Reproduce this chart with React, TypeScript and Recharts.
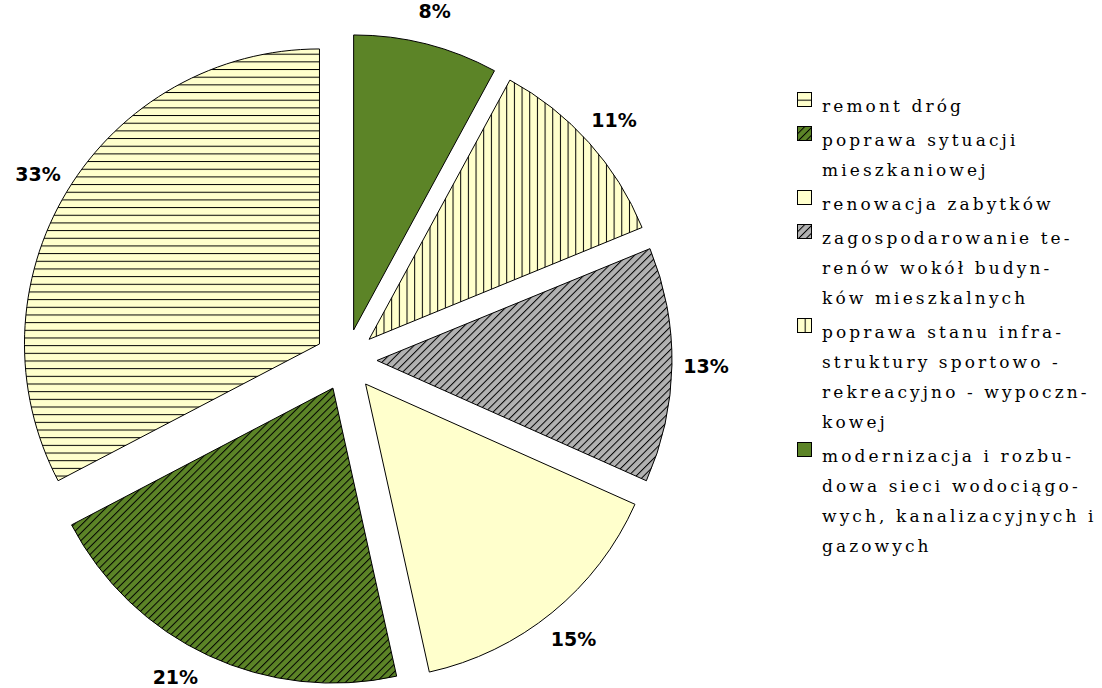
import React from 'react';
import { PieChart, Pie, Sector, Legend } from 'recharts';

// ---- data ----
const categories = [
  'remont dróg',
  'poprawa sytuacji mieszkaniowej',
  'renowacja zabytków',
  'zagospodarowanie terenów wokół budynków mieszkalnych',
  'poprawa stanu infrastruktury sportowo - rekreacyjno - wypocznkowej',
  'modernizacja i rozbudowa sieci wodociągowych, kanalizacyjnych i gazowych',
];
const shares = [33, 21, 15, 13, 11, 8];
const legendLines = [
  ['remont dróg'],
  ['poprawa sytuacji', 'mieszkaniowej'],
  ['renowacja zabytków'],
  ['zagospodarowanie te-', 'renów wokół budyn-', 'ków mieszkalnych'],
  ['poprawa stanu infra-', 'struktury sportowo -', 'rekreacyjno - wypoczn-', 'kowej'],
  ['modernizacja i rozbu-', 'dowa sieci wodociągo-', 'wych, kanalizacyjnych i', 'gazowych'],
];

// ---- styles ----
const GREEN = '#5C8427';
const YELLOW = '#FFFFCC';
const GRAY = '#B2B2B2';
const fills = ['url(#hLines)', 'url(#greenHatch)', YELLOW, 'url(#grayHatch)', 'url(#vLines)', GREEN];

const data = categories.map((name, i) => ({ name, value: shares[i], fill: fills[i] }));

const RAD = Math.PI / 180;
const EXPLODE = 31;
const LABEL_OFFSET = 65;
const LABEL_MAX_Y = 677;

const renderSlice = (props: any) => {
  const { cx, cy, midAngle } = props;
  const dx = EXPLODE * Math.cos(-midAngle * RAD);
  const dy = EXPLODE * Math.sin(-midAngle * RAD);
  return (
    <Sector
      cx={cx + dx}
      cy={cy + dy}
      innerRadius={props.innerRadius}
      outerRadius={props.outerRadius}
      startAngle={props.startAngle}
      endAngle={props.endAngle}
      fill={props.fill}
      stroke="#000"
      strokeWidth={1}
    />
  );
};

const renderLabel = (props: any) => {
  const { cx, cy, midAngle, outerRadius, value } = props;
  const r = outerRadius + LABEL_OFFSET;
  const cos = Math.cos(-midAngle * RAD);
  let x = cx + r * cos;
  let y = cy + r * Math.sin(-midAngle * RAD);
  if (y > LABEL_MAX_Y) {
    y = LABEL_MAX_Y;
    const h = Math.sqrt(Math.max(0, r * r - (y - cy) * (y - cy)));
    x = cx + (cos < 0 ? -h : h);
  }
  return (
    <text
      x={x}
      y={y}
      textAnchor="middle"
      dominantBaseline="central"
      fontFamily="DejaVu Sans"
      fontWeight="bold"
      fontSize={19}
      fill="#000"
    >
      {value}%
    </text>
  );
};

const renderLegend = (props: any) => {
  const payload = [...(props.payload || [])].sort(
    (a: any, b: any) => categories.indexOf(a.value) - categories.indexOf(b.value)
  );
  return (
    <div style={{ fontFamily: 'DejaVu Serif', fontSize: 17, letterSpacing: 3.1, color: '#000' }}>
      {payload.map((entry: any, i: number) => {
        const idx = categories.indexOf(entry.value);
        const lines = idx >= 0 ? legendLines[idx] : [String(entry.value)];
        const fill = idx >= 0 ? fills[idx] : entry.color;
        return (
          <div key={i} style={{ display: 'flex', alignItems: 'flex-start', marginBottom: 4 }}>
            <svg width={16} height={16} style={{ flex: 'none', marginTop: 1 }}>
              <rect x={0.5} y={0.5} width={14} height={14} fill={fill} stroke="#000" strokeWidth={1} />
            </svg>
            <div style={{ marginLeft: 9, lineHeight: '30px', whiteSpace: 'nowrap' }}>
              {lines.map((l, j) => (
                <div key={j}>{l}</div>
              ))}
            </div>
          </div>
        );
      })}
    </div>
  );
};

export default function App() {
  return (
    <div style={{ position: 'absolute', left: 0, top: 0, width: 1102, height: 688, background: '#fff' }}>
      <svg width={0} height={0} style={{ position: 'absolute' }}>
        <defs>
          <pattern id="hLines" patternUnits="userSpaceOnUse" width={8} height={7.67}>
            <rect width={8} height={7.67} fill={YELLOW} />
            <line x1={0} y1={0.5} x2={8} y2={0.5} stroke="#000" strokeWidth={1} />
          </pattern>
          <pattern id="vLines" patternUnits="userSpaceOnUse" width={7.67} height={8}>
            <rect width={7.67} height={8} fill={YELLOW} />
            <line x1={0.5} y1={0} x2={0.5} y2={8} stroke="#000" strokeWidth={1} />
          </pattern>
          <pattern id="greenHatch" patternUnits="userSpaceOnUse" width={5.42} height={10} patternTransform="rotate(45)">
            <rect width={5.42} height={10} fill={GREEN} />
            <line x1={0.5} y1={0} x2={0.5} y2={10} stroke="#000" strokeWidth={1} />
          </pattern>
          <pattern id="grayHatch" patternUnits="userSpaceOnUse" width={5.42} height={10} patternTransform="rotate(45)">
            <rect width={5.42} height={10} fill={GRAY} />
            <line x1={0.5} y1={0} x2={0.5} y2={10} stroke="#000" strokeWidth={1} />
          </pattern>
        </defs>
      </svg>
      <PieChart width={1102} height={688} margin={{ top: 0, right: 0, bottom: 0, left: 0 }}>
        <Pie
          data={data}
          dataKey="value"
          nameKey="name"
          cx={346}
          cy={360}
          outerRadius={295}
          startAngle={90}
          endAngle={450}
          stroke="#000"
          strokeWidth={1}
          isAnimationActive={false}
          label={renderLabel}
          labelLine={false}
          shape={renderSlice}
          activeShape={renderSlice}
          inactiveShape={renderSlice}
        />
        <Legend
          layout="vertical"
          verticalAlign="top"
          align="right"
          content={renderLegend}
          wrapperStyle={{ position: 'absolute', left: 797, top: 91, right: 'auto', width: 305 }}
        />
      </PieChart>
    </div>
  );
}
